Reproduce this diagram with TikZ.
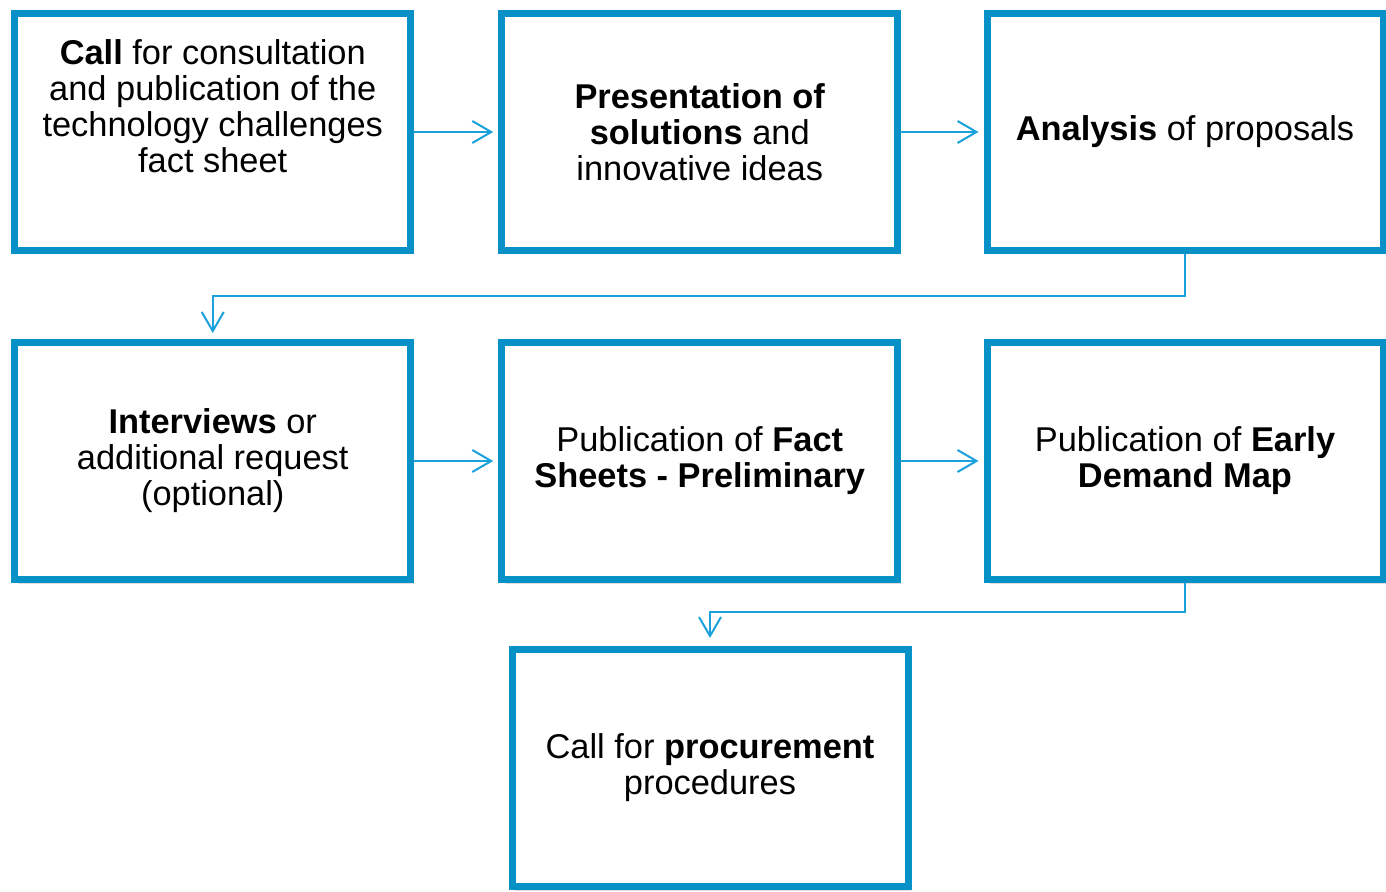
\documentclass[tikz,border=0pt]{standalone}
\usepackage{fontspec}
\setmainfont{Liberation Sans}
\usetikzlibrary{arrows.meta,shadows}
\definecolor{boxblue}{RGB}{8,145,199}
\definecolor{flowblue}{RGB}{27,161,219}
\begin{document}
\begin{tikzpicture}[x=0.5pt,y=-0.5pt,
    stagebox/.style={draw=boxblue,line width=3.5pt,fill=white,
      minimum width=198pt,minimum height=118.5pt,align=center,
      font=\fontsize{17.2pt}{18pt}\selectfont,
      drop shadow={shadow xshift=1.5pt,shadow yshift=-2pt,opacity=0.25}},
    flow/.style={draw=flowblue,line width=1pt,
      -{Straight Barb[length=9.5pt,width=11pt,line width=1pt]}}]
    \useasboundingbox (0,0) rectangle (1386,892);
    % first row
    \node[stagebox,text depth=26pt] (call) at (212.75,132)
      {\textbf{Call} for consultation\\and publication of the\\technology challenges\\fact sheet};
    \node[stagebox] (present) at (699.75,132)
      {\textbf{Presentation of}\\\textbf{solutions} and\\innovative ideas};
    \node[stagebox] (analysis) at (1185,132) {\textbf{Analysis} of proposals};
    % second row
    \node[stagebox] (interview) at (212.75,461)
      {\textbf{Interviews} or\\additional request\\(optional)};
    \node[stagebox] (factsheet) at (699.75,461)
      {Publication of \textbf{Fact}\\\textbf{Sheets - Preliminary}};
    \node[stagebox] (demandmap) at (1185,461)
      {Publication of \textbf{Early}\\\textbf{Demand Map}};
    % last step
    \node[stagebox] (procure) at (710,768)
      {Call for \textbf{procurement}\\procedures};
    \foreach \a/\b in {call/present,present/analysis,interview/factsheet,factsheet/demandmap} {
      \draw[flow,shorten >=2.5pt] (\a) -- (\b);
    }
    \draw[flow,shorten >=3pt] (analysis.south) -- ++(0,42) -| (interview.north);
    \draw[flow,shorten >=4pt] (demandmap.south) -- ++(0,29) -| (procure.north);
  \end{tikzpicture}
\end{document}
